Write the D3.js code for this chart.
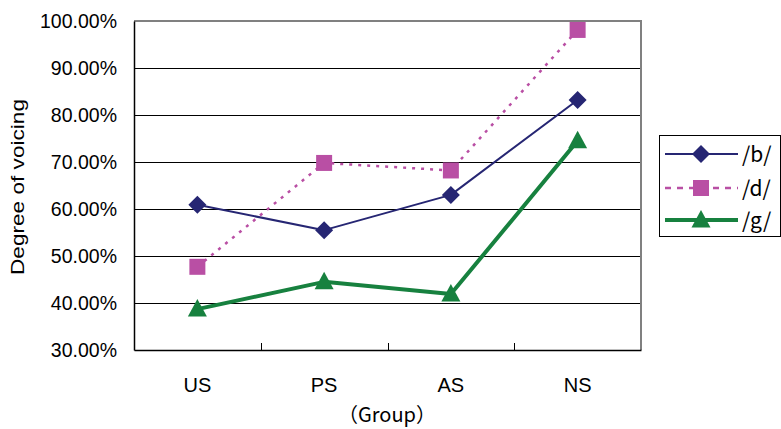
<!DOCTYPE html>
<html><head><meta charset="utf-8">
<script src="https://cdn.jsdelivr.net/npm/d3@7"></script>
<style>body{margin:0;background:#fff}svg{display:block}</style>
</head><body>
<svg id="c" width="781" height="429"></svg>
<script>
const categories = ["US","PS","AS","NS"];
const seriesNames = ["/b/","/d/","/g/"];
const bValues = [60.9, 55.5, 63.0, 83.2];
const dValues = [47.7, 69.8, 68.2, 98.1];
const gValues = [38.7, 44.5, 41.9, 74.5];
const yTicks = [30,40,50,60,70,80,90,100];

const series = [
  {name: seriesNames[0], values: bValues, color:"#262673", width:2, dash:null, marker:"diamond"},
  {name: seriesNames[1], values: dValues, color:"#B94FA4", width:2.5, dash:"3,6", marker:"square"},
  {name: seriesNames[2], values: gValues, color:"#17813F", width:4, dash:null, marker:"triangle"}
];

const FONT = "'Liberation Sans', Arial, sans-serif";
const svg = d3.select("#c");
const L=134, R=641, T=21, B=350;
const x = d3.scaleBand().domain(categories).range([L,R]);
const y = d3.scaleLinear().domain([30,100]).range([B,T]);
const py = v => Math.round(y(v))+0.5;

// gridlines
svg.append("g").selectAll("line").data(yTicks.filter(t=>t>30 && t<100)).join("line")
  .attr("x1",L).attr("x2",R).attr("y1",d=>py(d)).attr("y2",d=>py(d))
  .attr("stroke","#000").attr("stroke-width",1);
// top & right border (gray)
svg.append("path").attr("d",`M${L},${y(100)}H${R}V${B}`).attr("fill","none")
  .attr("stroke","#808080").attr("stroke-width",2);

// y axis
const yAxis = d3.axisLeft(y).tickValues(yTicks).tickSize(0).tickPadding(17)
  .tickFormat(d=>d.toFixed(2)+"%");
const gy = svg.append("g").attr("transform",`translate(${L},0)`).call(yAxis);
gy.select(".domain").attr("stroke","#000").attr("stroke-width",1.5);
gy.selectAll("text").attr("font-family",FONT).attr("font-size",19.5).attr("fill","#000");

// x axis
const xAxis = d3.axisBottom(x).tickSize(0).tickPadding(0);
const gx = svg.append("g").attr("transform",`translate(0,${B})`).call(xAxis);
gx.select(".domain").attr("stroke","#000").attr("stroke-width",1.5);
gx.selectAll("text").attr("font-family",FONT).attr("font-size",20).attr("fill","#000")
  .attr("dy",null).attr("y",42);
// inner category ticks at band boundaries
svg.append("g").selectAll("line").data(categories.slice(1)).join("line")
  .attr("x1",d=>Math.round(x(d))+0.5).attr("x2",d=>Math.round(x(d))+0.5).attr("y1",B).attr("y2",B-7)
  .attr("stroke","#000").attr("stroke-width",1);

function markerPath(type){
  if(type==="diamond") return "M0,-9L9,0L0,9L-9,0Z";
  if(type==="square") return "M-8,-8H8V8H-8Z";
  return "M0,-10L9.5,7.5H-9.5Z";
}

const cx = d=>x(d)+x.bandwidth()/2;
series.forEach(s=>{
  const line = d3.line().x((v,i)=>cx(categories[i])).y(v=>y(v));
  svg.append("path").datum(s.values).attr("d",line).attr("fill","none")
    .attr("stroke",s.color).attr("stroke-width",s.width)
    .attr("stroke-dasharray",s.dash).attr("stroke-linejoin","round");
});
series.forEach(s=>{
  svg.append("g").selectAll("path").data(s.values).join("path")
    .attr("transform",(v,i)=>`translate(${cx(categories[i])},${y(v)})`)
    .attr("d",markerPath(s.marker))
    .attr("fill",s.color);
});

// y label
svg.append("text").attr("transform","translate(24,187) rotate(-90)")
  .attr("text-anchor","middle").attr("font-family",FONT)
  .attr("font-size",18).attr("textLength",176).attr("lengthAdjust","spacingAndGlyphs")
  .text("Degree of voicing");
// x label
svg.append("text").attr("x",387).attr("y",422).attr("text-anchor","middle")
  .attr("font-family","'Noto Sans CJK JP', sans-serif").attr("font-size",20).text("（Group）");

// legend
const lg = svg.append("g");
lg.append("rect").attr("x",659.5).attr("y",135.5).attr("width",121).attr("height",101)
  .attr("fill","#fff").attr("stroke","#000").attr("stroke-width",1);
const rowY = [154,188,220];
const legendDash = ["", "6,6", ""];
series.forEach((s,i)=>{
  lg.append("line").attr("x1",665).attr("x2",738).attr("y1",rowY[i]).attr("y2",rowY[i])
    .attr("stroke",s.color).attr("stroke-width",s.width).attr("stroke-dasharray",legendDash[i]||null);
  lg.append("path").attr("transform",`translate(701,${rowY[i]})`)
    .attr("d",markerPath(s.marker)).attr("fill",s.color);
  lg.append("text").attr("x",742).attr("y",rowY[i]+8).attr("font-family","'Noto Sans CJK JP', sans-serif")
    .attr("font-size",21).text(s.name);
});
</script>
</body></html>
